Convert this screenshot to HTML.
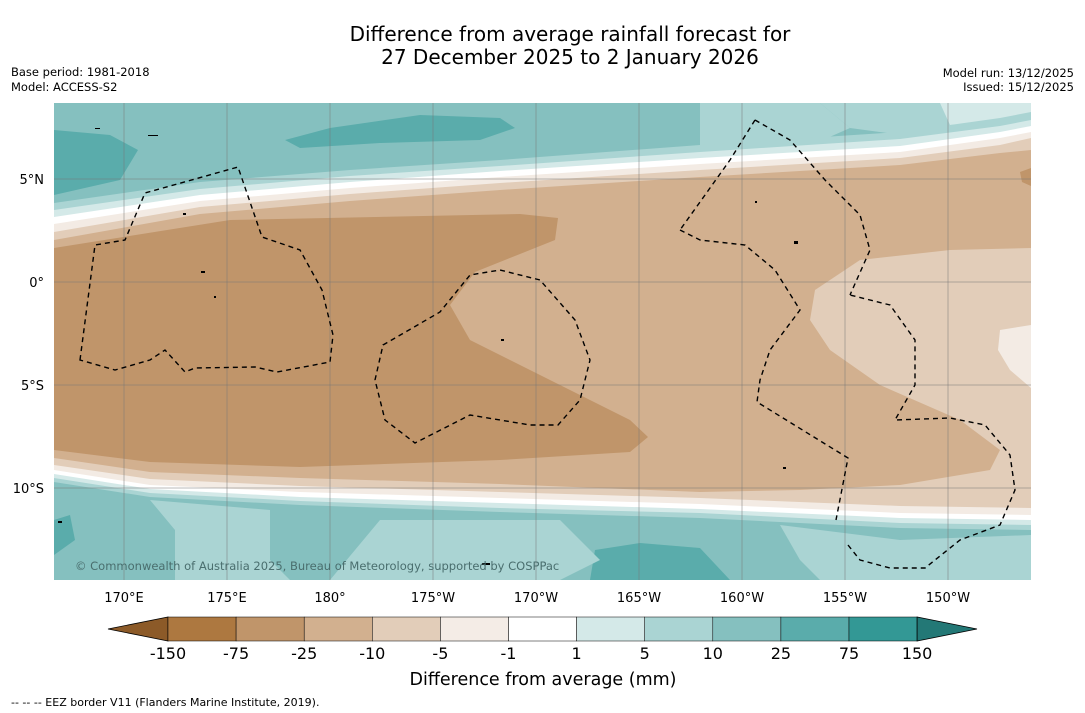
<!DOCTYPE html>
<html><head><meta charset="utf-8"><style>
body{margin:0;background:#fff;width:1085px;height:713px;overflow:hidden;font-family:"DejaVu Sans","Liberation Sans",sans-serif}
svg{position:absolute;left:0;top:0;font-family:"DejaVu Sans","Liberation Sans",sans-serif}
</style></head><body>
<svg width="1085" height="713">
<text x="570" y="41" font-size="20" text-anchor="middle">Difference from average rainfall forecast for</text>
<text x="570" y="64" font-size="20" text-anchor="middle">27 December 2025 to 2 January 2026</text>
<text x="11" y="76" font-size="11.5">Base period: 1981-2018</text>
<text x="11" y="91" font-size="11.5">Model: ACCESS-S2</text>
<text x="1074" y="77" font-size="11.5" text-anchor="end">Model run: 13/12/2025</text>
<text x="1074" y="91" font-size="11.5" text-anchor="end">Issued: 15/12/2025</text>
<defs><clipPath id="mc"><rect x="54" y="103" width="977" height="477"/></clipPath></defs>
<g clip-path="url(#mc)">
<rect x="54" y="103" width="977" height="477" fill="#85c0bf"/>
<path d="M54 130 L110 135 L138 150 L120 180 L54 195Z" fill="#5aacab"/>
<path d="M285 140 L330 128 L420 115 L500 118 L515 128 L480 140 L380 143 L300 148Z" fill="#5aacab"/>
<path d="M700 103 L820 103 L850 128 L800 150 L700 160Z" fill="#aad4d3"/>
<path d="M820 103 L1031 103 L1031 140 L940 140 L850 128Z" fill="#aad4d3"/>
<path d="M940 103 L1031 103 L1031 120 L950 125Z" fill="#d4e9e8"/>
<path d="M54 520 L54 555 L75 540 L70 515Z" fill="#5aacab"/>
<path d="M595 550 L640 543 L700 548 L730 580 L590 580Z" fill="#5aacab"/>
<path d="M200 580 L215 555 L250 552 L265 580Z" fill="#d4e9e8"/>
<path d="M150 500 L270 510 L270 560 L290 580 L175 580 L175 530Z" fill="#aad4d3"/>
<path d="M380 520 L560 520 L600 560 L560 580 L330 580Z" fill="#aad4d3"/>
<path d="M780 525 L900 540 L1031 535 L1031 580 L820 580 L800 560Z" fill="#aad4d3"/>
<g>
<path d="M54 203 L200 182 L350 170 L500 160 L700 145 L900 132 L1000 118 L1031 112 L1031 530 L900 528 L700 518 L500 512 L300 505 L150 497 L54 482Z" fill="#aad4d3"/>
<path d="M54 210 L200 189 L350 176 L500 166 L700 152 L900 139 L1000 126 L1031 120 L1031 525 L900 523 L700 513 L500 508 L300 501 L150 493 L54 478Z" fill="#d4e9e8"/>
<path d="M54 217 L200 195 L350 182 L500 171 L700 158 L900 146 L1000 132 L1031 126 L1031 520 L900 518 L700 509 L500 503 L300 497 L150 489 L54 474Z" fill="#fff"/>
<path d="M54 224 L200 201 L350 188 L500 177 L700 164 L900 152 L1000 138 L1031 132 L1031 515 L900 513 L700 504 L500 498 L300 492 L150 485 L54 470Z" fill="#f3ebe4"/>
<path d="M54 232 L200 207 L350 194 L500 183 L700 170 L900 158 L1000 145 L1031 138 L1031 508 L900 506 L700 498 L500 492 L300 486 L150 479 L54 465Z" fill="#e2cdb9"/>
<path d="M54 240 L200 214 L350 201 L500 190 L700 177 L900 165 L1000 153 L1031 150 L1031 248 L950 250 L860 260 L815 290 L810 320 L830 350 L880 385 L960 420 L1000 450 L990 470 L900 485 L800 490 L700 492 L500 484 L300 478 L150 472 L54 458Z" fill="#d2b08f"/>
<path d="M1031 325 L1000 330 L998 350 L1010 370 L1031 388Z" fill="#f3ebe4"/>
<path d="M1020 172 L1031 168 L1031 186 L1022 182Z" fill="#c0956a"/>
<path d="M54 248 L230 220 L520 214 L558 218 L555 240 L475 272 L450 305 L470 340 L540 375 L630 420 L648 437 L630 452 L500 460 L300 467 L150 462 L54 450Z" fill="#c0956a"/>
</g>
</g>
<g id="grid" stroke="#777" stroke-width="0.5"></g>
<g fill="none" stroke="#000" stroke-width="1.4" stroke-dasharray="5,4" clip-path="url(#mc)">
<path d="M80 360 L95 245 L125 240 L145 193 L238 167 L262 237 L300 250 L322 290 L333 335 L330 362 L277 372 L255 367 L195 368 L185 372 L165 350 L150 360 L115 370 Z"/>
<path d="M383 345 L440 312 L470 275 L500 270 L540 280 L575 320 L590 360 L580 400 L558 425 L530 425 L470 415 L415 443 L385 420 L375 380 Z"/>
<path d="M755 120 L790 140 L825 180 L860 215 L870 250 L850 295 M680 230 L700 240 L745 245 L775 270 L800 310 L770 350 L760 380 L757 402 L848 458 L836 520 M848 545 L860 560 L890 568 L925 568 L960 540 L1000 525 L1015 490 L1010 455 L985 425 L950 418 L895 420 L915 385 L915 340 L890 305 L850 295 M755 120 L730 160 L680 230"/>
</g>
<g fill="#000">
<rect x="148" y="135" width="10" height="1"/><rect x="95" y="128" width="5" height="1"/><rect x="183" y="213" width="3" height="2"/><rect x="201" y="271" width="4" height="2"/><rect x="214" y="296" width="2" height="2"/><rect x="501" y="339" width="3" height="2"/><rect x="755" y="201" width="2" height="2"/><rect x="794" y="241" width="4" height="3"/><rect x="783" y="467" width="3" height="2"/><rect x="482" y="563" width="8" height="2"/><rect x="58" y="521" width="4" height="2"/>
</g>
<text x="75" y="570" font-size="11.5" fill="#4a6e6e">© Commonwealth of Australia 2025, Bureau of Meteorology, supported by COSPPac</text>
<g id="axes" font-size="13"></g>
<g id="cbar"></g>
<text x="543" y="685" font-size="17.5" text-anchor="middle">Difference from average (mm)</text>
<text x="11" y="706" font-size="11">--  --  -- EEZ border V11 (Flanders Marine Institute, 2019).</text>
</svg>
<script>
const lonLabels=["170°E","175°E","180°","175°W","170°W","165°W","160°W","155°W","150°W"];
const lonValues=[170,175,180,185,190,195,200,205,210];
const latLabels=["5°N","0°","5°S","10°S"];
const latValues=[5,0,-5,-10];
const levels=["-150","-75","-25","-10","-5","-1","1","5","10","25","75","150"];
const colors=["#ad7840","#c0956a","#d2b08f","#e2cdb9","#f4ece6","#ffffff","#d4e9e8","#aad4d3","#85c0bf","#5aacab","#339895"];
const NS="http://www.w3.org/2000/svg";
const xOf=lon=>124+(lon-170)*20.6;
const yOf=lat=>282-lat*20.6;
const grid=document.getElementById('grid'),axes=document.getElementById('axes'),cb=document.getElementById('cbar');
function mk(t,a,p){const e=document.createElementNS(NS,t);for(const k in a)e.setAttribute(k,a[k]);p.appendChild(e);return e;}
lonValues.forEach((v,i)=>{const x=xOf(v);
const l=mk('line',{x1:x,x2:x,y1:103,y2:580},grid);


const t=mk('text',{x:x,y:602,'text-anchor':'middle'},axes);t.textContent=lonLabels[i];

});
latValues.forEach((v,i)=>{const y=yOf(v);
const l=mk('line',{x1:54,x2:1031,y1:y,y2:y},grid);


const t=mk('text',{x:44,y:y+5,'text-anchor':'end'},axes);t.textContent=latLabels[i];

});
const bx0=168,bw=68.1,by=617,bh=24;
const lt=mk('polygon',{points:`108,${by+bh/2} ${bx0},${by} ${bx0},${by+bh}`,fill:'#8c5a28',stroke:'#000','stroke-width':0.8},cb);


colors.forEach((c,i)=>{const r=mk('rect',{x:bx0+i*bw,y:by,width:bw,height:bh,fill:c,stroke:'#000','stroke-width':0.5},cb);

});
const xe=bx0+colors.length*bw;
const rt=mk('polygon',{points:`${xe},${by} ${xe},${by+bh} 977,${by+bh/2}`,fill:'#237876',stroke:'#000','stroke-width':0.8},cb);


levels.forEach((s,i)=>{const t=mk('text',{x:bx0+i*bw,y:659,'text-anchor':'middle','font-size':16},cb);t.textContent=s;

});
</script>
</body></html>
